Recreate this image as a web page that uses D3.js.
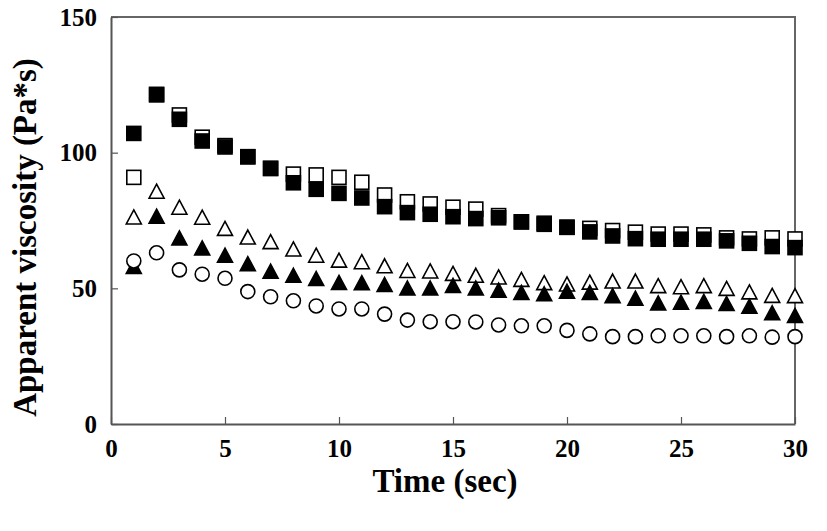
<!DOCTYPE html>
<html>
<head>
<meta charset="utf-8">
<script src="https://cdn.jsdelivr.net/npm/d3@7"></script>
<style>
  html, body { margin: 0; padding: 0; background: #fff; }
  svg { display: block; }
  text { font-family: "Liberation Serif", "Times New Roman", serif; font-weight: bold; fill: #000; }
</style>
</head>
<body>
<svg id="chart" width="827" height="531"></svg>
<script>
// ---- data ----
const time = [1,2,3,4,5,6,7,8,9,10,11,12,13,14,15,16,17,18,19,20,21,22,23,24,25,26,27,28,29,30];
const openSquare = [90.9,121.5,113.9,105.7,102.6,98.5,94.2,92.1,91.8,90.9,89.1,84.4,81.9,81.1,79.9,79.2,76.8,74.5,74.0,72.5,72.1,71.3,70.7,70.0,70.0,69.7,68.6,68.2,68.6,68.2];
const filledSquare = [107.1,121.3,112.3,104.3,102.1,98.5,94.2,88.9,86.5,85.0,83.3,80.1,77.9,77.3,76.4,75.7,76.0,74.5,73.6,72.5,70.8,69.3,68.3,68.1,68.1,68.1,67.5,66.6,65.4,65.0];
const openTriangle = [76.3,85.8,79.9,76.2,72.1,68.9,67.2,64.5,62.2,60.4,59.8,58.3,56.6,56.4,55.5,54.8,54.2,53.3,52.1,51.6,52.3,52.7,52.7,51.0,50.6,51.0,50.0,48.7,47.4,47.3];
const filledTriangle = [58.1,76.6,68.6,64.9,62.2,59.1,56.3,54.8,53.6,52.2,52.1,51.4,50.1,50.1,51.1,50.1,49.3,48.5,48.0,48.9,48.5,47.3,46.4,44.6,44.9,45.2,44.4,43.4,41.0,40.0];
const openCircle = [60.1,63.1,56.8,55.2,53.7,48.8,46.9,45.4,43.5,42.4,42.4,40.5,38.3,37.7,37.7,37.6,36.5,36.2,36.2,34.5,33.2,32.2,32.2,32.5,32.5,32.5,32.2,32.5,32.0,32.2];
const xTicks = [0,5,10,15,20,25,30];
const yTicks = [0,50,100,150];
const xTitle = "Time (sec)";
const yTitle = "Apparent viscosity (Pa*s)";

// ---- layout ----
const svg = d3.select("#chart");
const plotL = 111, plotR = 795, plotT = 17, plotB = 424;
const x = d3.scaleLinear().domain([0, 30]).range([plotL, plotR]);
const y = d3.scaleLinear().domain([0, 150]).range([plotB, plotT]);
const axisColor = "#555";

// frame (top & right)
svg.append("path")
  .attr("d", `M${x(0)},${y(150)}H${x(30)}V${y(0)}`)
  .attr("fill", "none").attr("stroke", "#666").attr("stroke-width", 2);

// x axis
const xAxis = svg.append("g").attr("transform", `translate(0,${plotB})`)
  .call(d3.axisBottom(x).tickValues(xTicks).tickSizeInner(-7).tickSizeOuter(0).tickPadding(15));
xAxis.select(".domain").attr("stroke", axisColor).attr("stroke-width", 2);
xAxis.selectAll(".tick line").attr("stroke", axisColor).attr("stroke-width", 1.2);
xAxis.selectAll(".tick text").attr("font-size", 25).attr("dy", "0.71em")
  .attr("font-family", "Liberation Serif").attr("font-weight", "bold").attr("fill", "#000");

// y axis
const yAxis = svg.append("g").attr("transform", `translate(${plotL},0)`)
  .call(d3.axisLeft(y).tickValues(yTicks).tickSizeInner(-7).tickSizeOuter(0).tickPadding(14));
yAxis.select(".domain").attr("stroke", axisColor).attr("stroke-width", 2);
yAxis.selectAll(".tick line").attr("stroke", axisColor).attr("stroke-width", 1.2);
yAxis.selectAll(".tick text").attr("font-size", 25)
  .attr("font-family", "Liberation Serif").attr("font-weight", "bold").attr("fill", "#000");

// titles
svg.append("text").attr("x", 445).attr("y", 492)
  .attr("text-anchor", "middle").attr("font-size", 33).text(xTitle);
svg.append("text").attr("transform", `translate(36,${(y(0) + y(150)) / 2 + 17}) rotate(-90)`)
  .attr("text-anchor", "middle").attr("font-size", 33).text(yTitle);

// markers
const g = svg.append("g");
const sq = 14, triW = 15, triH = 14, rad = 7;
function squares(vals, fill) {
  g.append("g").selectAll("rect").data(time).join("rect")
    .attr("x", (d) => x(d) - sq / 2).attr("y", (d, i) => y(vals[i]) - sq / 2)
    .attr("width", sq).attr("height", sq)
    .attr("fill", fill).attr("stroke", "#000").attr("stroke-width", 1.6);
}
function triangles(vals, fill) {
  g.append("g").selectAll("path").data(time).join("path")
    .attr("d", (d, i) => {
      const cx = x(d), cy = y(vals[i]);
      const p = d3.path();
      p.moveTo(cx, cy - triH / 2);
      p.lineTo(cx + triW / 2, cy + triH / 2);
      p.lineTo(cx - triW / 2, cy + triH / 2);
      p.closePath();
      return p.toString();
    })
    .attr("fill", fill).attr("stroke", "#000").attr("stroke-width", 1.6).attr("stroke-linejoin", "miter");
}
function circles(vals) {
  g.append("g").selectAll("circle").data(time).join("circle")
    .attr("cx", (d) => x(d)).attr("cy", (d, i) => y(vals[i])).attr("r", rad)
    .attr("fill", "#fff").attr("stroke", "#000").attr("stroke-width", 1.6);
}
squares(openSquare, "#fff");
squares(filledSquare, "#000");
triangles(openTriangle, "#fff");
triangles(filledTriangle, "#000");
circles(openCircle);
</script>
</body>
</html>
